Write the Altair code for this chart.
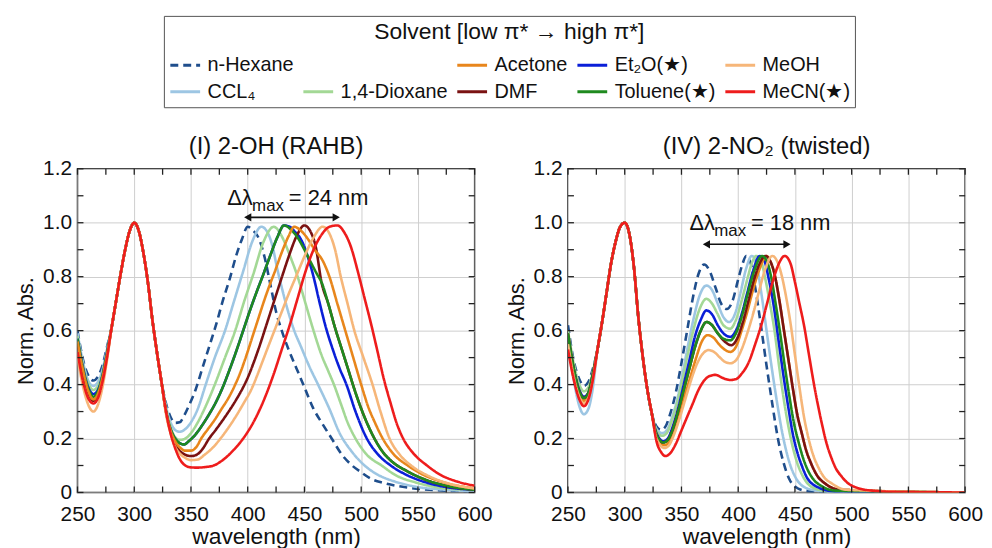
import altair as alt
import pandas as pd

FONT = "Liberation Sans"

# ---------------- legend / series definitions ----------------
legend_order = ["n-Hexane", " ", "Acetone", "Et₂O(★)", "MeOH",
                "CCL₄", "1,4-Dioxane", "DMF", "Toluene(★)", "MeCN(★)"]
legend_colors = ["#1f4e8c", "rgba(0,0,0,0)", "#e8861c", "#0a1fd8", "#f6b679",
                 "#9dc6e3", "#a3d895", "#7a1212", "#1f8a1f", "#ee1c1c"]
legend_dashes = [[8, 5], [1, 0], [1, 0], [1, 0], [1, 0],
                 [1, 0], [1, 0], [1, 0], [1, 0], [1, 0]]

HEX, CCL, DIOX, ACE, DMF, ET2O, TOL, MEOH, MECN = (
    "n-Hexane", "CCL₄", "1,4-Dioxane", "Acetone", "DMF",
    "Et₂O(★)", "Toluene(★)", "MeOH", "MeCN(★)")

# ---------------- panel (I) 2-OH (RAHB) ----------------
L_low_wl = [250, 255, 260, 264, 268, 272, 276]
L_low = {
    HEX:  [0.60, 0.49, 0.43, 0.415, 0.43, 0.47, 0.54],
    CCL:  [0.59, 0.48, 0.41, 0.395, 0.41, 0.455, 0.53],
    DIOX: [0.58, 0.47, 0.40, 0.38, 0.395, 0.445, 0.525],
    ET2O: [0.57, 0.46, 0.385, 0.365, 0.38, 0.435, 0.52],
    TOL:  [0.57, 0.455, 0.38, 0.355, 0.375, 0.43, 0.515],
    ACE:  [0.56, 0.45, 0.37, 0.345, 0.365, 0.425, 0.51],
    DMF:  [0.55, 0.44, 0.365, 0.34, 0.36, 0.42, 0.505],
    MEOH: [0.50, 0.39, 0.32, 0.30, 0.325, 0.39, 0.49],
    MECN: [0.52, 0.41, 0.345, 0.33, 0.35, 0.41, 0.50],
}
L_mid_wl = [280, 284, 288, 292, 296, 300, 304, 308, 312, 316, 320, 324]
L_mid_ab = [0.61, 0.71, 0.81, 0.90, 0.97, 1.0, 0.97, 0.89, 0.78, 0.64, 0.52, 0.41]

tol_tail_wl = [471, 477, 483, 489, 495, 501, 507, 513, 520, 527, 540, 555, 575, 600]
tol_tail_ab = [0.70, 0.61, 0.53, 0.45, 0.37, 0.30, 0.24, 0.19, 0.145, 0.115, 0.08, 0.05, 0.025, 0.01]
tol_rise_wl = [328, 332, 336, 340, 344, 348, 354, 360, 366, 372, 378, 384, 390, 396,
               402, 408, 413, 420, 426, 432]
tol_rise_ab = [0.30, 0.235, 0.20, 0.183, 0.178, 0.19, 0.215, 0.25, 0.29, 0.335, 0.39, 0.455,
               0.525, 0.60, 0.675, 0.745, 0.80, 0.88, 0.945, 0.99]

L_tail = {
    HEX: ([328, 332, 336, 340, 344, 348, 354, 360, 366, 372, 378, 384, 390, 395, 400, 405,
           410, 415, 420, 425, 430, 436, 443, 450, 458, 465, 474, 483, 492, 500, 509, 520,
           538, 560, 600],
          [0.33, 0.28, 0.258, 0.26, 0.285, 0.32, 0.38, 0.46, 0.54, 0.62, 0.71, 0.79, 0.88,
           0.94, 0.985, 0.97, 0.94, 0.87, 0.77, 0.67, 0.60, 0.53, 0.46, 0.39, 0.31, 0.26,
           0.20, 0.14, 0.10, 0.075, 0.05, 0.035, 0.02, 0.01, 0.004]),
    CCL: ([328, 332, 336, 340, 345, 350, 356, 363, 371, 380, 388, 396, 404, 412, 418, 422,
           426, 430, 435, 441, 447, 454, 462, 472, 481, 492, 503, 515, 530, 550, 575, 600],
          [0.32, 0.26, 0.232, 0.225, 0.235, 0.26, 0.31, 0.40, 0.50, 0.60, 0.71, 0.82, 0.93,
           0.985, 0.96, 0.91, 0.83, 0.76, 0.68, 0.60, 0.54, 0.47, 0.40, 0.31, 0.22, 0.15,
           0.10, 0.065, 0.04, 0.02, 0.01, 0.005]),
    DIOX: ([328, 332, 336, 340, 345, 350, 356, 363, 371, 380, 389, 397, 405, 414, 423, 430,
            437, 444, 451, 458, 465, 471, 476, 482, 488, 495, 505, 518, 530, 550, 575, 600],
           [0.31, 0.245, 0.205, 0.195, 0.20, 0.22, 0.26, 0.32, 0.40, 0.50, 0.60, 0.71, 0.81,
            0.93, 0.985, 0.95, 0.88, 0.80, 0.70, 0.60, 0.51, 0.45, 0.40, 0.33, 0.26, 0.20,
            0.14, 0.10, 0.065, 0.035, 0.015, 0.01]),
    ET2O: (tol_rise_wl + [437, 442, 446, 450, 454, 458, 463, 469, 475, 481, 487, 495, 505,
                          515, 526, 540, 555, 575, 600],
           tol_rise_ab + [0.985, 0.965, 0.945, 0.91, 0.86, 0.80, 0.71, 0.61, 0.53, 0.46,
                          0.40, 0.30, 0.20, 0.14, 0.10, 0.065, 0.04, 0.02, 0.01]),
    DMF: ([328, 332, 336, 340, 345, 350, 355, 360, 366, 372, 378, 384, 390, 396, 401, 406,
           411, 416, 421, 426, 431, 437, 443, 450, 455, 460, 465] + tol_tail_wl,
          [0.30, 0.225, 0.18, 0.155, 0.14, 0.135, 0.14, 0.16, 0.20, 0.233, 0.268, 0.305,
           0.345, 0.39, 0.435, 0.49, 0.55, 0.615, 0.68, 0.745, 0.81, 0.885, 0.95, 0.99,
           0.97, 0.91, 0.78] + tol_tail_ab),
    TOL: (tol_rise_wl + [438, 444, 450, 456, 461, 465] + tol_tail_wl,
          tol_rise_ab + [0.975, 0.945, 0.90, 0.85, 0.81, 0.78] + tol_tail_ab),
    ACE: ([328, 332, 336, 340, 345, 350, 355, 359, 365, 371, 377, 383, 389, 394, 399, 404,
           409, 414, 419, 424, 430, 436, 441, 447, 453, 459, 466, 472, 479, 486, 493, 500,
           506, 512, 519, 529, 541, 555, 575, 600],
          [0.30, 0.23, 0.19, 0.168, 0.155, 0.155, 0.17, 0.20, 0.235, 0.27, 0.31, 0.35, 0.40,
           0.45, 0.51, 0.575, 0.64, 0.705, 0.765, 0.82, 0.89, 0.95, 0.985, 0.97, 0.94, 0.90,
           0.86, 0.80, 0.70, 0.60, 0.50, 0.40, 0.32, 0.26, 0.20, 0.14, 0.10, 0.065, 0.035,
           0.015]),
    MEOH: ([328, 332, 336, 340, 345, 350, 356, 362, 369, 376, 383, 390, 397, 403, 408, 413,
            418, 424, 430, 436, 443, 450, 458, 466, 472, 477, 482, 488, 494, 502, 510, 517,
            525, 534, 544, 560, 580, 600],
           [0.29, 0.22, 0.17, 0.145, 0.128, 0.12, 0.122, 0.14, 0.165, 0.20, 0.24, 0.285,
            0.335, 0.38, 0.43, 0.485, 0.54, 0.605, 0.67, 0.735, 0.805, 0.875, 0.945, 0.985,
            0.96, 0.90, 0.80, 0.70, 0.60, 0.50, 0.40, 0.30, 0.20, 0.14, 0.10, 0.06, 0.03,
            0.015]),
    MECN: ([328, 332, 336, 340, 345, 350, 355, 362, 370, 378, 387, 396, 405, 414, 423, 430,
            437, 444, 451, 458, 465, 472, 479, 485, 491, 497, 503, 509, 514, 520, 526, 531,
            537, 546, 558, 570, 585, 600],
           [0.30, 0.22, 0.165, 0.125, 0.10, 0.093, 0.092, 0.094, 0.10, 0.12, 0.155, 0.20,
            0.26, 0.34, 0.44, 0.53, 0.62, 0.72, 0.82, 0.90, 0.955, 0.985, 0.99, 0.965, 0.91,
            0.82, 0.72, 0.62, 0.53, 0.42, 0.33, 0.26, 0.20, 0.145, 0.10, 0.065, 0.04, 0.025]),
}
L_draw = [HEX, CCL, DIOX, ET2O, DMF, TOL, ACE, MEOH, MECN]

# ---------------- panel (IV) 2-NO2 (twisted) ----------------
R_low_wl = [250, 255, 260, 264, 268, 272]
R_low = {
    HEX:  [0.62, 0.49, 0.42, 0.395, 0.41, 0.46],
    CCL:  [0.56, 0.42, 0.32, 0.29, 0.31, 0.39],
    DIOX: [0.60, 0.48, 0.40, 0.375, 0.39, 0.45],
    ET2O: [0.58, 0.46, 0.38, 0.355, 0.37, 0.44],
    TOL:  [0.59, 0.46, 0.375, 0.35, 0.37, 0.44],
    ACE:  [0.56, 0.44, 0.365, 0.34, 0.36, 0.43],
    DMF:  [0.59, 0.46, 0.375, 0.35, 0.37, 0.44],
    MEOH: [0.55, 0.43, 0.355, 0.33, 0.35, 0.42],
    MECN: [0.53, 0.42, 0.345, 0.32, 0.345, 0.42],
}
R_mid_wl = [276, 280, 284, 288, 292, 296, 300, 304, 308, 312, 316, 320, 324]
R_mid_ab = [0.53, 0.63, 0.74, 0.85, 0.93, 0.985, 1.0, 0.96, 0.84, 0.65, 0.50, 0.38, 0.29]

dmf_desc_wl = [428, 432, 436, 440, 444, 448, 452, 456, 460, 464, 470, 476, 490, 600]
dmf_desc_ab = [0.86, 0.81, 0.72, 0.61, 0.50, 0.39, 0.29, 0.22, 0.155, 0.11, 0.06, 0.035, 0.01, 0.0]

R_tail = {
    HEX: ([328, 332, 336, 340, 345, 350, 355, 360, 365, 370, 375, 380, 385, 390, 395, 400,
           404, 407, 411, 415, 420, 425, 430, 435, 440, 445, 450, 460, 480, 600],
          [0.245, 0.232, 0.245, 0.29, 0.37, 0.48, 0.60, 0.72, 0.81, 0.845, 0.82, 0.76, 0.70,
           0.68, 0.71, 0.79, 0.85, 0.877, 0.85, 0.76, 0.62, 0.47, 0.33, 0.20, 0.11, 0.05,
           0.022, 0.006, 0.001, 0.0]),
    CCL: ([328, 333, 337, 341, 346, 351, 356, 361, 366, 372, 377, 382, 387, 392, 397, 402,
           407, 412, 416, 420, 425, 430, 434, 438, 442, 446, 450, 455, 465, 480, 600],
          [0.235, 0.22, 0.23, 0.27, 0.34, 0.44, 0.55, 0.65, 0.73, 0.767, 0.75, 0.70, 0.65,
           0.632, 0.66, 0.74, 0.83, 0.877, 0.85, 0.75, 0.60, 0.45, 0.34, 0.24, 0.16, 0.10,
           0.06, 0.03, 0.01, 0.003, 0.0]),
    DIOX: ([328, 333, 337, 341, 346, 351, 356, 361, 366, 372, 377, 382, 387, 393, 398, 403,
            408, 412, 416, 420, 424, 428, 432, 436, 440, 444, 448, 452, 457, 465, 480, 600],
           [0.23, 0.21, 0.22, 0.26, 0.33, 0.42, 0.52, 0.61, 0.68, 0.718, 0.70, 0.66, 0.62,
            0.607, 0.64, 0.71, 0.79, 0.85, 0.877, 0.86, 0.79, 0.70, 0.60, 0.47, 0.35, 0.25,
            0.17, 0.11, 0.06, 0.02, 0.004, 0.0]),
    ET2O: ([328, 334, 338, 342, 347, 352, 357, 362, 367, 372, 377, 382, 387, 393, 398, 403,
            408, 413, 419, 423, 427, 431, 436, 440, 444, 448, 452, 456, 460, 470, 485, 600],
           [0.22, 0.19, 0.20, 0.24, 0.31, 0.40, 0.49, 0.58, 0.64, 0.675, 0.66, 0.62, 0.59,
            0.577, 0.60, 0.66, 0.74, 0.82, 0.877, 0.86, 0.79, 0.70, 0.55, 0.43, 0.32, 0.22,
            0.15, 0.10, 0.06, 0.02, 0.004, 0.0]),
    TOL: ([328, 334, 338, 342, 347, 352, 357, 362, 367, 372, 377, 382, 387, 393, 398, 403,
           408, 414, 421, 425, 429, 433, 437, 441, 445, 449, 453, 457, 461, 467, 473, 485, 600],
          [0.215, 0.185, 0.195, 0.23, 0.30, 0.38, 0.46, 0.54, 0.60, 0.632, 0.62, 0.59, 0.57,
           0.564, 0.59, 0.65, 0.73, 0.82, 0.877, 0.86, 0.80, 0.70, 0.59, 0.47, 0.36, 0.26,
           0.19, 0.13, 0.086, 0.045, 0.025, 0.007, 0.0]),
    ACE: ([328, 335, 339, 343, 348, 353, 358, 363, 368, 373, 378, 383, 388, 393, 398, 403,
           408, 413, 419, 425] + dmf_desc_wl,
          [0.21, 0.175, 0.185, 0.22, 0.29, 0.36, 0.43, 0.50, 0.56, 0.583, 0.575, 0.55, 0.53,
           0.521, 0.54, 0.60, 0.67, 0.75, 0.83, 0.877] + dmf_desc_ab),
    DMF: ([328, 334, 338, 342, 347, 352, 357, 362, 367, 372, 377, 382, 388, 394, 399, 404,
           409, 414, 419, 424] + dmf_desc_wl,
          [0.215, 0.185, 0.195, 0.23, 0.30, 0.38, 0.46, 0.54, 0.60, 0.632, 0.62, 0.59, 0.56,
           0.546, 0.57, 0.63, 0.71, 0.79, 0.85, 0.877] + dmf_desc_ab),
    MEOH: ([328, 335, 339, 343, 348, 353, 358, 363, 368, 374, 379, 384, 388, 393, 398, 403,
            408, 413, 418, 424, 430, 434, 438, 442, 446, 450, 454, 458, 462, 466, 471, 476,
            482, 495, 600],
           [0.20, 0.165, 0.175, 0.21, 0.27, 0.34, 0.41, 0.47, 0.51, 0.528, 0.52, 0.50, 0.485,
            0.479, 0.49, 0.53, 0.59, 0.66, 0.74, 0.83, 0.877, 0.86, 0.81, 0.73, 0.63, 0.51,
            0.39, 0.28, 0.20, 0.14, 0.09, 0.055, 0.035, 0.01, 0.0]),
    MECN: ([328, 332, 336, 340, 345, 350, 355, 360, 365, 370, 375, 380, 386, 393, 398, 403,
            409, 415, 421, 426, 431, 436, 441, 446, 450, 454, 458, 462, 466, 470, 474, 478,
            482, 486, 491, 496, 505, 520, 540, 600],
           [0.19, 0.15, 0.135, 0.145, 0.18, 0.23, 0.28, 0.33, 0.38, 0.415, 0.432, 0.436,
            0.425, 0.417, 0.42, 0.44, 0.48, 0.55, 0.63, 0.71, 0.79, 0.85, 0.877, 0.85, 0.78,
            0.70, 0.62, 0.52, 0.42, 0.33, 0.25, 0.18, 0.13, 0.09, 0.06, 0.037, 0.017, 0.006,
            0.002, 0.0]),
}
R_draw = [HEX, CCL, DIOX, ET2O, ACE, DMF, TOL, MEOH, MECN]

# axis ticks
x_grid = [250, 300, 350, 400, 450, 500, 550, 600]
y_grid = [0, 0.2, 0.4, 0.6, 0.8, 1.0, 1.2]
x_ticks = [250, 275, 300, 325, 350, 375, 400, 425, 450, 475, 500, 525, 550, 575, 600]
y_ticks = [0, 0.1, 0.2, 0.3, 0.4, 0.5, 0.6, 0.7, 0.8, 0.9, 1.0, 1.1, 1.2]

# annotations
ann_left = dict(x0=400, x1=478, y=1.02, tx=382, ty=1.09, txt="= 24 nm")
ann_right = dict(x0=372, x1=443, y=0.92, tx=357, ty=1.0, txt="= 18 nm")

W, H = 400, 326


def build_df(low_wl, low, mid_wl, mid_ab, tail):
    rows = []
    for s, (twl, tab) in tail.items():
        wl = low_wl + mid_wl + twl
        ab = low[s] + mid_ab + tab
        for w, a in zip(wl, ab):
            rows.append({"solvent": s, "wl": w, "ab": a})
    return pd.DataFrame(rows)


dfL = build_df(L_low_wl, L_low, L_mid_wl, L_mid_ab, L_tail)
dfR = build_df(R_low_wl, R_low, R_mid_wl, R_mid_ab, R_tail)

xscale = alt.Scale(domain=[250, 600], nice=False, zero=False)
yscale = alt.Scale(domain=[0, 1.2], nice=False, zero=False)

leg = alt.Legend(
    orient="none", legendX=87, legendY=-154, direction="horizontal", columns=5,
    title="Solvent [low π* → high π*]", titleAnchor="middle", titleAlign="center",
    titleFontSize=23, titleFontWeight="normal", titleFont=FONT, titlePadding=5,
    titleLimit=0, labelLimit=0,
    labelFontSize=20, labelFont=FONT, labelOffset=6, symbolType="stroke",
    symbolSize=900, symbolStrokeWidth=3, strokeColor="#555555", padding=5,
    rowPadding=0, columnPadding=3, gridAlign="each", labelColor="#111111",
    titleColor="#111111", fillColor="white",
)

color_enc = alt.Color("solvent:N", scale=alt.Scale(domain=legend_order, range=legend_colors),
                      legend=leg)
dash_enc = alt.StrokeDash("solvent:N", scale=alt.Scale(domain=legend_order, range=legend_dashes),
                          legend=leg)

xaxis = alt.Axis(values=x_grid, title="wavelength (nm)", grid=True, ticks=False, domain=False,
                 labelFontSize=21, titleFontSize=23, labelPadding=11, titlePadding=1,
                 labelFlush=False, labelOverlap=False, titleFontWeight="normal")
yaxis = alt.Axis(values=y_grid, title="Norm. Abs.", grid=True, ticks=False, domain=False,
                 labelFontSize=21, titleFontSize=22, labelPadding=6, titlePadding=5,
                 labelFlush=False, labelOverlap=False, titleFontWeight="normal",
                 labelExpr="datum.value == 0 ? '0' : format(datum.value, '.1f')")


def panel(df, draw, ann, title):
    layers = []
    for i, s in enumerate(draw):
        if i == 0:
            xe = alt.X("wl:Q", scale=xscale, axis=xaxis)
            ye = alt.Y("ab:Q", scale=yscale, axis=yaxis)
        else:
            xe = alt.X("wl:Q", scale=xscale)
            ye = alt.Y("ab:Q", scale=yscale)
        layers.append(
            alt.Chart(df[df.solvent == s]).mark_line(
                strokeWidth=2.6, interpolate="monotone", clip=True
            ).encode(x=xe, y=ye, color=color_enc, strokeDash=dash_enc)
        )
    xt = pd.DataFrame({"t": x_ticks})
    yt = pd.DataFrame({"t": y_ticks})
    tick_col = "#222222"
    layers.append(alt.Chart(xt).mark_rule(color=tick_col, strokeWidth=1.3).encode(
        x=alt.X("t:Q", scale=xscale), y=alt.value(H), y2=alt.value(H - 6)))
    layers.append(alt.Chart(xt).mark_rule(color=tick_col, strokeWidth=1.3).encode(
        x=alt.X("t:Q", scale=xscale), y=alt.value(0), y2=alt.value(6)))
    layers.append(alt.Chart(yt).mark_rule(color=tick_col, strokeWidth=1.3).encode(
        y=alt.Y("t:Q", scale=yscale), x=alt.value(0), x2=alt.value(6)))
    layers.append(alt.Chart(yt).mark_rule(color=tick_col, strokeWidth=1.3).encode(
        y=alt.Y("t:Q", scale=yscale), x=alt.value(W), x2=alt.value(W - 6)))

    adf = pd.DataFrame([ann])
    layers.append(alt.Chart(adf).mark_rule(color="#111111", strokeWidth=1.6).encode(
        x=alt.X("x0:Q", scale=xscale), x2="x1:Q", y=alt.Y("y:Q", scale=yscale)))
    layers.append(alt.Chart(adf).mark_point(shape="triangle-left", filled=True, size=70,
                                            color="#111111", opacity=1).encode(
        x=alt.X("x0:Q", scale=xscale), y=alt.Y("y:Q", scale=yscale)))
    layers.append(alt.Chart(adf).mark_point(shape="triangle-right", filled=True, size=70,
                                            color="#111111", opacity=1).encode(
        x=alt.X("x1:Q", scale=xscale), y=alt.Y("y:Q", scale=yscale)))
    tx = alt.X("tx:Q", scale=xscale)
    ty = alt.Y("ty:Q", scale=yscale)
    layers.append(alt.Chart(adf).mark_text(text="Δλ", align="left", baseline="middle",
                                           fontSize=22, font=FONT, color="#111111").encode(x=tx, y=ty))
    layers.append(alt.Chart(adf).mark_text(text="max", align="left", baseline="middle",
                                           fontSize=17, font=FONT, color="#111111",
                                           dx=25, dy=8).encode(x=tx, y=ty))
    layers.append(alt.Chart(adf).mark_text(align="left", baseline="middle",
                                           fontSize=22, font=FONT, color="#111111",
                                           dx=62).encode(x=tx, y=ty, text="txt:N"))
    return alt.layer(*layers).properties(
        width=W, height=H,
        title=alt.TitleParams(title, fontSize=24, fontWeight="normal", font=FONT,
                              anchor="middle", offset=-1, color="#111111"),
    )


left = panel(dfL, L_draw, ann_left, "(I) 2-OH (RAHB)")
right = panel(dfR, R_draw, ann_right, "(IV) 2-NO₂ (twisted)")

chart = alt.hconcat(
    left, right, spacing=11,
    padding={"left": 6, "top": 5, "right": 0, "bottom": 0},
).configure(
    font=FONT
).configure_view(
    stroke="#222222", strokeWidth=1.5
).configure_axis(
    gridColor="#cfcfcf", gridWidth=1, labelColor="#111111", titleColor="#111111",
    labelFont=FONT, titleFont=FONT
)

chart.save("out.html", embed_options={"renderer": "svg", "actions": False})
